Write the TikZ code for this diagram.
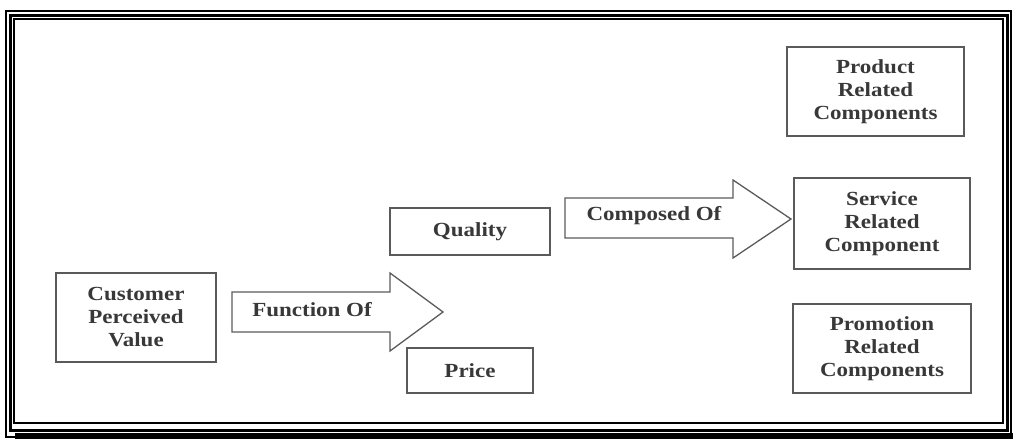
\documentclass[tikz,border=0pt]{standalone}
\usepackage{fontspec}
\setmainfont{Liberation Serif}[FakeStretch=1.15]
\definecolor{boxline}{HTML}{5A5A5A}
\definecolor{boxtext}{HTML}{383838}
\begin{document}
\begin{tikzpicture}[x=1pt,y=-1pt,
  every node/.style={font=\bfseries\fontsize{20}{23}\selectfont,text=boxtext,align=center},
  item/.style={draw=boxline,line width=1.3pt,inner sep=0pt},
  bigarrow/.style={draw=boxline,line width=1.3pt,line join=miter}]
\useasboundingbox (0,0) rectangle (1013,439);
% frame
\draw[line width=2.2pt] (6,11) rectangle (1011,437);
\draw[line width=3pt] (10,15) rectangle (1007,430);
\draw[line width=2pt] (14,19) rectangle (1003,423);
\fill (15,433) rectangle (1013,439);
% boxes
\node[item,minimum width=160pt,minimum height=89pt] (cpv) at (136,317.5) {Customer\\Perceived\\Value};
\node[item,minimum width=160pt,minimum height=47pt] (quality) at (470,231.5) {Quality};
\node[item,minimum width=126pt,minimum height=45pt] (price) at (470,370.5) {Price};
\node[item,minimum width=177pt,minimum height=89pt] (product) at (875.5,91.5) {Product\\Related\\Components};
\node[item,minimum width=176pt,minimum height=91pt] (service) at (882,223.5) {Service\\Related\\Component};
\node[item,minimum width=178pt,minimum height=89pt] (promo) at (882,348.5) {Promotion\\Related\\Components};
% block arrows
\draw[bigarrow] (232,292) -- (390,292) -- (390,273) -- (443,312) -- (390,351) -- (390,332) -- (232,332) -- cycle;
\node (fof) at (312,310) {Function Of};
\draw[bigarrow] (565,198) -- (733,198) -- (733,180) -- (791,219) -- (733,258) -- (733,238) -- (565,238) -- cycle;
\node (cof) at (654,216) {Composed Of};
\end{tikzpicture}
\end{document}
